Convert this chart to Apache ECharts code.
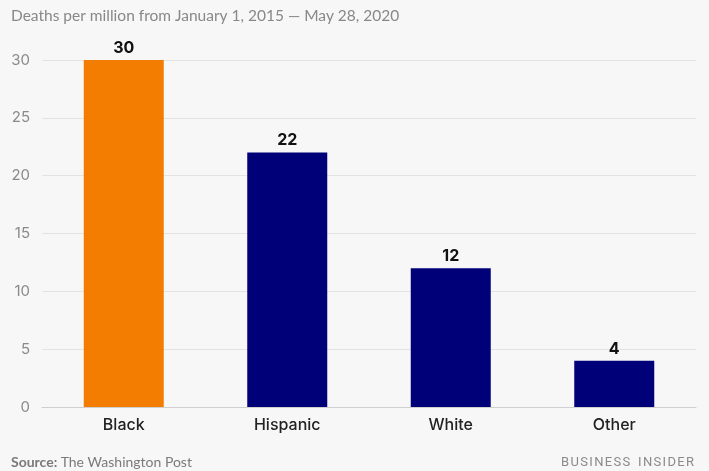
<!DOCTYPE html>
<html>
<head>
<meta charset="utf-8">
<script src="https://cdn.jsdelivr.net/npm/echarts@6/dist/echarts.min.js"></script>
<style>
  html, body { margin: 0; padding: 0; background: #f7f7f7; }
  #chart { width: 709px; height: 471px; }
</style>
</head>
<body>
<div id="chart"></div>
<script>
const categories = ['Black', 'Hispanic', 'White', 'Other'];
const deathsPerMillion = [30, 22, 12, 4];
const barColors = ['#f27d00', '#000078', '#000078', '#000078'];
const yTicks = [0, 5, 10, 15, 20, 25, 30];

const chart = echarts.init(document.getElementById('chart'), null, { renderer: 'canvas' });
chart.setOption({
  backgroundColor: '#f7f7f7',
  animation: false,
  textStyle: { fontFamily: 'Inter, Lato, sans-serif' },
  graphic: [
    { type: 'text', left: 11, top: 8,
      style: { text: 'Deaths per million from January 1, 2015 \u2014 May 28, 2020', fill: '#888',
               font: '15.5px Lato, sans-serif' } },
    { type: 'text', left: 11, top: 455,
      style: {
        text: '{b|Source:} {a|The Washington Post}',
        rich: {
          b: { fill: '#7a7a7a', font: 'bold 14px Lato, sans-serif' },
          a: { fill: '#7a7a7a', font: '14px Lato, sans-serif' }
        }
      } },
    { type: 'text', right: 15, top: 456,
      style: { text: 'B U S I N E S S   I N S I D E R'.replace(/ (?! )/g, '\u200a'), fill: '#8a8a8a',
               font: '13px Roboto, sans-serif' } }
  ],
  grid: { left: 42, right: 13, top: 60, bottom: 64 },
  xAxis: {
    type: 'category',
    data: categories,
    axisTick: { show: false },
    axisLine: { lineStyle: { color: '#cfcfcf' } },
    axisLabel: { color: '#222', fontSize: 16, fontWeight: 500, margin: 10, fontFamily: 'Inter, Lato, sans-serif' }
  },
  yAxis: {
    type: 'value',
    min: yTicks[0],
    max: yTicks[yTicks.length - 1],
    interval: 5,
    axisLine: { show: false },
    axisTick: { show: false },
    splitLine: { lineStyle: { color: '#e3e3e3' } },
    axisLabel: { color: '#8a8a8a', fontSize: 15, margin: 12, align: 'right' }
  },
  series: [{
    type: 'bar',
    barWidth: 80,
    data: deathsPerMillion.map((v, i) => ({ value: v, itemStyle: { color: barColors[i] } })),
    label: {
      show: true, position: 'top', distance: 4,
      color: '#111', fontSize: 16, fontWeight: 'bold', fontFamily: 'Inter, Lato, sans-serif'
    }
  }]
});
</script>
</body>
</html>
